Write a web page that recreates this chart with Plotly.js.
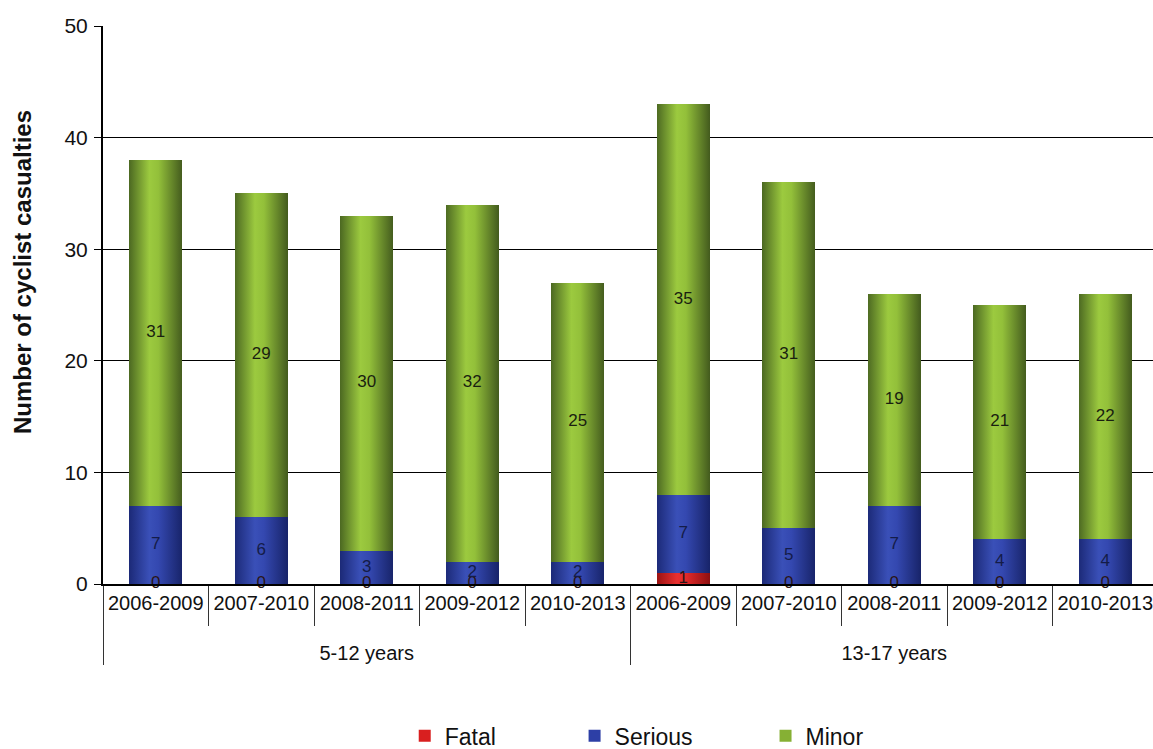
<!DOCTYPE html>
<html>
<head>
<meta charset="utf-8">
<script src="https://cdn.plot.ly/plotly-3.0.1.min.js"></script>
<style>
  html, body { margin: 0; padding: 0; background: #fff; overflow: hidden; }
  #chart { width: 1158px; height: 749px; }
</style>
</head>
<body>
<div id="chart"></div>
<script>
// Cyclist casualties by severity, rolling four-year periods, two age bands
const ageGroups = ["5-12 years", "5-12 years", "5-12 years", "5-12 years", "5-12 years",
                   "13-17 years", "13-17 years", "13-17 years", "13-17 years", "13-17 years"];
const periods = ["2006-2009", "2007-2010", "2008-2011", "2009-2012", "2010-2013",
                 "2006-2009", "2007-2010", "2008-2011", "2009-2012", "2010-2013"];
const fatal   = [0, 0, 0, 0, 0, 1, 0, 0, 0, 0];
const serious = [7, 6, 3, 2, 2, 7, 5, 7, 4, 4];
const minor   = [31, 29, 30, 32, 25, 35, 31, 19, 21, 22];

// the leading line break drops the age-band row a little below the periods
const x = [ageGroups.map(g => "<br>" + g), periods];
const font = "Liberation Sans, Arial, sans-serif";

// label sits in the middle of its own stacked segment
const mid = (base, v) => base.map((b, i) => b + v[i] / 2);
const zeros = fatal.map(() => 0);
const baseSerious = fatal.slice();
const baseMinor = fatal.map((f, i) => f + serious[i]);

const barTrace = (name, y, color, legend) => ({
  type: "bar", name, x, y, legend,
  marker: { color, line: { width: 0 } },
  hoverinfo: "y+name"
});

const labelTrace = (y, v, color) => ({
  type: "scatter", mode: "text", x, y, text: v.map(String),
  textfont: { family: font, size: 17, color },
  textposition: "middle center",
  cliponaxis: false, showlegend: false, hoverinfo: "skip"
});

const data = [
  barTrace("Fatal", fatal, "#d91f1f", "legend"),
  barTrace("Serious", serious, "#2d3fa6", "legend2"),
  barTrace("Minor", minor, "#86b034", "legend3"),
  labelTrace(mid(zeros, fatal), fatal, "#2a1515"),
  labelTrace(mid(baseSerious, serious), serious, "#141c48"),
  labelTrace(mid(baseMinor, minor), minor, "#1a1f10")
];

const legendBase = {
  orientation: "h", yanchor: "middle", xanchor: "left", y: -0.272,
  font: { family: font, size: 23, color: "#111" },
  bgcolor: "rgba(0,0,0,0)", itemwidth: 30
};

const layout = {
  width: 1158, height: 749,
  margin: { l: 103, r: 0, t: 26, b: 165, autoexpand: false },
  paper_bgcolor: "#fff", plot_bgcolor: "#fff",
  barmode: "stack", bargap: 0.5,
  font: { family: font, color: "#111" },
  xaxis: {
    type: "multicategory",
    tickson: "boundaries", ticks: "outside", ticklen: 40, tickwidth: 1, tickcolor: "#333",
    showdividers: true, dividercolor: "#333", dividerwidth: 1,
    tickfont: { family: font, size: 20, color: "#111" },
    showline: true, linecolor: "#000", linewidth: 2,
    showgrid: false, zeroline: false, automargin: false
  },
  yaxis: {
    range: [0, 50], dtick: 10, tick0: 0,
    showgrid: true, gridcolor: "#000", gridwidth: 1,
    ticks: "outside", ticklen: 7, tickcolor: "#000", tickwidth: 1,
    showline: true, linecolor: "#000", linewidth: 2,
    zeroline: false, ticklabelstandoff: 2,
    tickfont: { family: font, size: 21, color: "#111" },
    automargin: false
  },
  legend: Object.assign({}, legendBase, { x: 0.286 }),
  legend2: Object.assign({}, legendBase, { x: 0.447 }),
  legend3: Object.assign({}, legendBase, { x: 0.628 }),
  annotations: [{
    text: "<b>Number of cyclist casualties</b>",
    xref: "paper", yref: "paper", x: 0, y: 0.559, xshift: -81,
    xanchor: "center", yanchor: "middle", textangle: -90, showarrow: false,
    font: { family: font, size: 24, color: "#111" }
  }],
  showlegend: true
};

// cylinder-style shading across each bar
const shades = {
  fatal:   ["#9a1212", "#e83030", "#e22a2a", "#8e1010"],
  serious: ["#1c2a78", "#3a50b8", "#3448b0", "#18246a"],
  minor:   ["#4d6a22", "#9cca3f", "#93c03a", "#445c1e"]
};

Plotly.newPlot("chart", data, layout, { displayModeBar: false, staticPlot: true }).then(gd => {
  const svg = gd.querySelector(".main-svg");
  const ns = "http://www.w3.org/2000/svg";
  let defs = svg.querySelector("defs");
  if (!defs) { defs = document.createElementNS(ns, "defs"); svg.insertBefore(defs, svg.firstChild); }
  Object.keys(shades).forEach(key => {
    const g = document.createElementNS(ns, "linearGradient");
    g.setAttribute("id", "shade-" + key);
    g.setAttribute("x1", "0"); g.setAttribute("x2", "1");
    g.setAttribute("y1", "0"); g.setAttribute("y2", "0");
    [0, 0.38, 0.55, 1].forEach((off, i) => {
      const s = document.createElementNS(ns, "stop");
      s.setAttribute("offset", off);
      s.setAttribute("stop-color", shades[key][i]);
      g.appendChild(s);
    });
    defs.appendChild(g);
  });
  const keys = ["fatal", "serious", "minor"];
  gd.querySelectorAll(".barlayer .trace").forEach((tr, i) => {
    tr.querySelectorAll(".point path").forEach(p => { p.style.fill = "url(#shade-" + keys[i] + ")"; });
  });
});
</script>
</body>
</html>
